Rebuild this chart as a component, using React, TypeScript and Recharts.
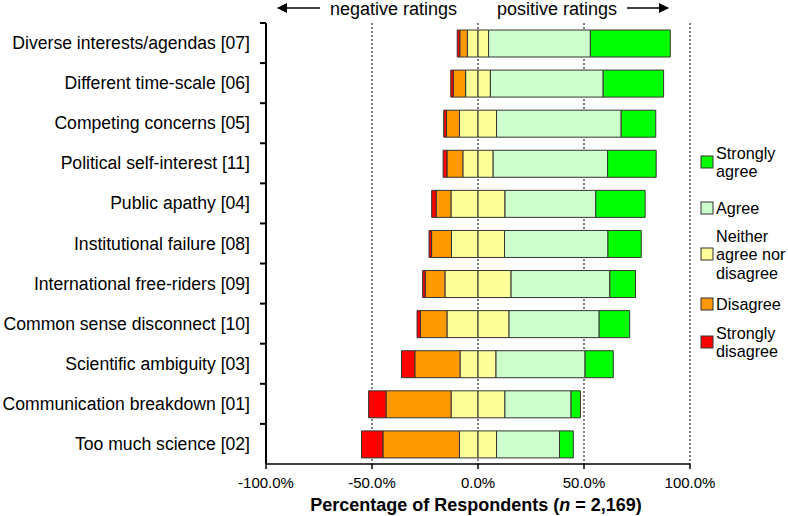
import React from "react";
import {
  BarChart,
  Bar,
  XAxis,
  YAxis,
  CartesianGrid,
  Label,
} from "recharts";

const categories = [
  "Diverse interests/agendas [07]",
  "Different time-scale [06]",
  "Competing concerns [05]",
  "Political self-interest [11]",
  "Public apathy [04]",
  "Institutional failure [08]",
  "International free-riders [09]",
  "Common sense disconnect [10]",
  "Scientific ambiguity [03]",
  "Communication breakdown [01]",
  "Too much science [02]",
];

const stronglyDisagree = [1.2, 1.2, 1.3, 1.8, 2.1, 1.2, 1.2, 1.6, 6.3, 8.2, 10.1];
const disagree = [3.6, 5.8, 6.1, 7.5, 7.0, 9.4, 9.3, 12.5, 21.3, 30.7, 36.1];
const neutral = [10.0, 11.7, 17.5, 14.3, 25.5, 25.0, 31.2, 29.3, 17.0, 25.4, 17.5];
const agree = [48.0, 53.2, 58.8, 54.0, 42.8, 48.8, 46.6, 42.5, 42.0, 31.2, 29.7];
const stronglyAgree = [37.7, 28.5, 16.3, 22.9, 23.3, 15.7, 12.1, 14.4, 13.3, 4.4, 6.5];

const xTicks = [-100, -50, 0, 50, 100];

const COLORS = {
  sa: "#00ff00",
  a: "#ccffcc",
  n: "#ffff99",
  d: "#ff9900",
  sd: "#ff0000",
};

const FONT = "'Liberation Sans', Arial, sans-serif";

const W = 788;
const H = 516;
const M_TOP = 23;
const M_RIGHT = 98;
const Y_W = 266;
const X_H = 52;
const PLOT_H = H - M_TOP - X_H;

// neutral is split across zero; negatives stack leftward
const data = categories.map((name, i) => ({
  name,
  neutralNeg: -neutral[i] / 2,
  disagree: -disagree[i],
  stronglyDisagree: -stronglyDisagree[i],
  neutralPos: neutral[i] / 2,
  agree: agree[i],
  stronglyAgree: stronglyAgree[i],
}));

const CategoryTick = (props: any) => {
  const { x, y, payload } = props;
  const ax = x + 8; // axis line position
  return (
    <text
      x={ax - 16}
      y={y}
      textAnchor="end"
      dominantBaseline="central"
      fontFamily={FONT}
      fontSize={17.6}
      fill="#000"
    >
      {payload.value}
    </text>
  );
};

const XTitle = (props: any) => {
  const vb = props.viewBox || { x: Y_W, y: H - X_H, width: W - Y_W - M_RIGHT };
  return (
    <text
      x={vb.x + vb.width / 2 - 2}
      y={505}
      textAnchor="middle"
      dominantBaseline="central"
      fontFamily={FONT}
      fontSize={18}
      fontWeight="bold"
      fill="#000"
    >
      Percentage of Respondents (<tspan fontStyle="italic">n</tspan> = 2,169)
    </text>
  );
};

const legendItems = [
  { key: "sa", lines: ["Strongly", "agree"], cy: 162 },
  { key: "a", lines: ["Agree"], cy: 208 },
  { key: "n", lines: ["Neither", "agree nor", "disagree"], cy: 254 },
  { key: "d", lines: ["Disagree"], cy: 304 },
  { key: "sd", lines: ["Strongly", "disagree"], cy: 342 },
];

// y-axis line with ticks at band boundaries
const bandH = PLOT_H / categories.length;
const boundaries = categories.map((_, i) => M_TOP + i * bandH);

const Overlay = () => (
  <svg
    width={W}
    height={H}
    style={{ position: "absolute", left: 0, top: 0, pointerEvents: "none", zIndex: 2 }}
  >
    <defs>
      <marker id="arrowHead" markerWidth="10" markerHeight="10" refX="9" refY="5" orient="auto" markerUnits="userSpaceOnUse">
        <path d="M0,0 L10,5 L0,10 z" fill="#000" />
      </marker>
    </defs>
    <line x1={Y_W} x2={Y_W} y1={M_TOP} y2={M_TOP + PLOT_H} stroke="#000" strokeWidth={2} />
    {boundaries.map((by, i) => (
      <line key={i} x1={Y_W - 6} x2={Y_W} y1={by} y2={by} stroke="#000" strokeWidth={2} />
    ))}
    <line x1={320} y1={8} x2={278} y2={8} stroke="#000" strokeWidth={1.5} markerEnd="url(#arrowHead)" />
    <text x={330} y={9} dominantBaseline="central" fontFamily={FONT} fontSize={18} fill="#000">
      negative ratings
    </text>
    <text x={497} y={9} dominantBaseline="central" fontFamily={FONT} fontSize={18} fill="#000">
      positive ratings
    </text>
    <line x1={627} y1={8} x2={668} y2={8} stroke="#000" strokeWidth={1.5} markerEnd="url(#arrowHead)" />
    {legendItems.map((item) => {
      const lh = 18.5;
      const top = item.cy - ((item.lines.length - 1) * lh) / 2;
      return (
        <g key={item.key}>
          <rect
            x={701}
            y={item.cy - 6}
            width={12}
            height={12}
            fill={(COLORS as any)[item.key]}
            stroke="#333"
            strokeWidth={1}
          />
          {item.lines.map((ln, j) => (
            <text
              key={j}
              x={716}
              y={top + j * lh}
              dominantBaseline="central"
              fontFamily={FONT}
              fontSize={16.2}
              fill="#000"
            >
              {ln}
            </text>
          ))}
        </g>
      );
    })}
  </svg>
);

export default function App() {
  return (
    <div style={{ position: "absolute", left: 0, top: 0, width: W, height: H, background: "#fff" }}>
      <BarChart
        width={W}
        height={H}
        data={data}
        layout="vertical"
        stackOffset="sign"
        barSize={27}
        margin={{ top: M_TOP, right: M_RIGHT, bottom: 0, left: 0 }}
      >
        <CartesianGrid
          horizontal={false}
          vertical
          stroke="#000"
          strokeDasharray="2 2"
          strokeWidth={1}
        />
        <XAxis
          type="number"
          domain={[-100, 100]}
          ticks={xTicks}
          tickFormatter={(v: number) => `${v.toFixed(1)}%`}
          height={X_H}
          axisLine={{ stroke: "#000", strokeWidth: 1.5 }}
          tickLine={{ stroke: "#000", strokeWidth: 1.5 }}
          tickSize={5}
          tickMargin={8}
          tick={{ fill: "#000", fontSize: 15, fontFamily: FONT }}
        >
          <Label content={<XTitle />} />
        </XAxis>
        <YAxis
          type="category"
          dataKey="name"
          width={Y_W}
          axisLine={{ stroke: "#000", strokeWidth: 1.5 }}
          tickLine={false}
          tick={<CategoryTick />}
          interval={0}
        />
        <Bar dataKey="neutralNeg" stackId="s" fill={COLORS.n} stroke="#333" strokeWidth={1} isAnimationActive={false} />
        <Bar dataKey="disagree" stackId="s" fill={COLORS.d} stroke="#333" strokeWidth={1} isAnimationActive={false} />
        <Bar dataKey="stronglyDisagree" stackId="s" fill={COLORS.sd} stroke="#333" strokeWidth={1} isAnimationActive={false} />
        <Bar dataKey="neutralPos" stackId="s" fill={COLORS.n} stroke="#333" strokeWidth={1} isAnimationActive={false} />
        <Bar dataKey="agree" stackId="s" fill={COLORS.a} stroke="#333" strokeWidth={1} isAnimationActive={false} />
        <Bar dataKey="stronglyAgree" stackId="s" fill={COLORS.sa} stroke="#333" strokeWidth={1} isAnimationActive={false} />
      </BarChart>
      <Overlay />
    </div>
  );
}
